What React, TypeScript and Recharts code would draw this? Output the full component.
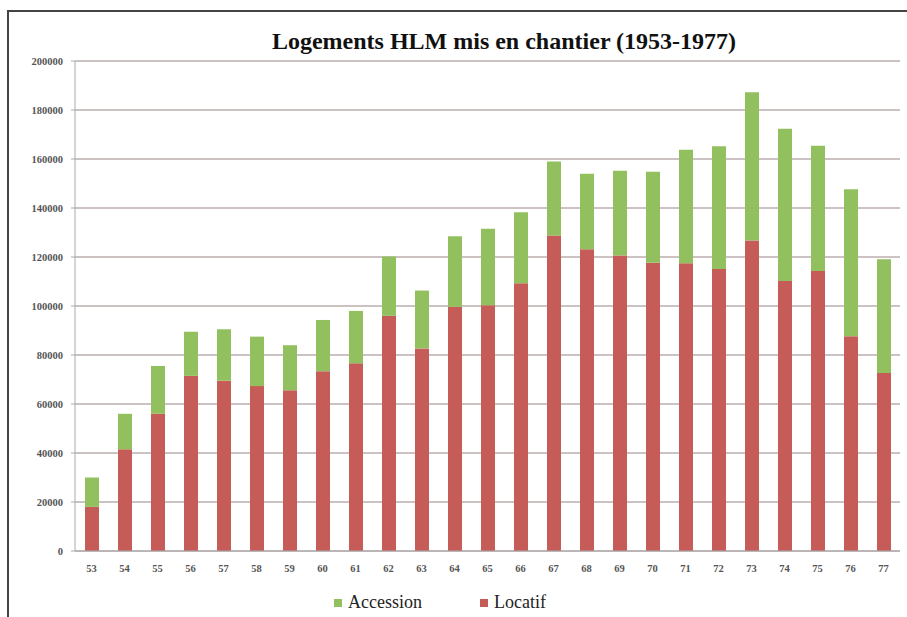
import { Bar, BarChart, CartesianGrid, XAxis, YAxis } from "recharts"

// années 1953-1977 (libellés courts)
const years = [
  "53", "54", "55", "56", "57", "58", "59", "60", "61", "62", "63", "64", "65",
  "66", "67", "68", "69", "70", "71", "72", "73", "74", "75", "76", "77",
]

const locatif = [
  18000, 41500, 56000, 71500, 69500, 67300, 65600, 73400, 76600, 96000, 82700, 99700, 100300,
  109300, 128800, 123200, 120600, 117700, 117500, 115100, 126700, 110200, 114300, 87700, 72700,
]

const accession = [
  12000, 14500, 19500, 18000, 21000, 20200, 18400, 20900, 21400, 24200, 23600, 28800, 31200,
  29000, 30200, 30800, 34600, 37100, 46300, 50100, 60500, 62100, 51100, 60000, 46400,
]

const yTicks = [0, 20000, 40000, 60000, 80000, 100000, 120000, 140000, 160000, 180000, 200000]

const RED = "#c65c58"
const GREEN = "#92c05e"
const FONT = "'Liberation Serif', 'DejaVu Serif', serif"

export default function App() {
  const data = years.map((year, i) => ({
    year,
    locatif: locatif[i],
    accession: accession[i],
  }))

  const tickStyle = { fontSize: 10.5, fontWeight: 700, fill: "#555", fontFamily: FONT }

  return (
    <div style={{ position: "absolute", left: 0, top: 0, width: 907, height: 617, background: "#fff", overflow: "hidden" }}>
      {/* cadre du scan */}
      <div
        style={{
          position: "absolute",
          left: 7,
          top: 10,
          width: 920,
          height: 620,
          borderLeft: "2px solid #444",
          borderTop: "2px solid #444",
        }}
      />
      <div
        style={{
          position: "absolute",
          left: 0,
          top: 28,
          width: 1008,
          textAlign: "center",
          fontFamily: FONT,
          fontWeight: 700,
          fontSize: 24,
          color: "#111",
        }}
      >
        Logements HLM mis en chantier (1953-1977)
      </div>
      <BarChart
        width={907}
        height={617}
        data={data}
        margin={{ top: 61, right: 7, bottom: 46, left: 0 }}
        barSize={14}
        style={{ position: "absolute", left: 0, top: 0 }}
      >
        <CartesianGrid vertical={false} stroke="#bcaeae" strokeWidth={1.5} />
        <XAxis
          dataKey="year"
          height={20}
          tick={tickStyle}
          tickLine={false}
          tickMargin={8}
          axisLine={{ stroke: "#aaa" }}
          interval={0}
        />
        <YAxis
          width={75}
          domain={[0, 200000]}
          ticks={yTicks}
          interval={0}
          tick={tickStyle}
          tickLine={{ stroke: "#aaa" }}
          tickSize={4}
          tickMargin={8}
          axisLine={{ stroke: "#aaa" }}
        />
        <Bar dataKey="locatif" stackId="a" fill={RED} isAnimationActive={false} />
        <Bar dataKey="accession" stackId="a" fill={GREEN} isAnimationActive={false} />
      </BarChart>
      <div
        style={{
          position: "absolute",
          left: 334,
          top: 592,
          display: "flex",
          alignItems: "center",
          fontFamily: FONT,
          fontSize: 18,
          color: "#222",
        }}
      >
        <span style={{ width: 8, height: 8, background: GREEN, marginRight: 6 }} />
        <span style={{ marginRight: 58 }}>Accession</span>
        <span style={{ width: 8, height: 8, background: RED, marginRight: 6 }} />
        <span>Locatif</span>
      </div>
    </div>
  )
}
